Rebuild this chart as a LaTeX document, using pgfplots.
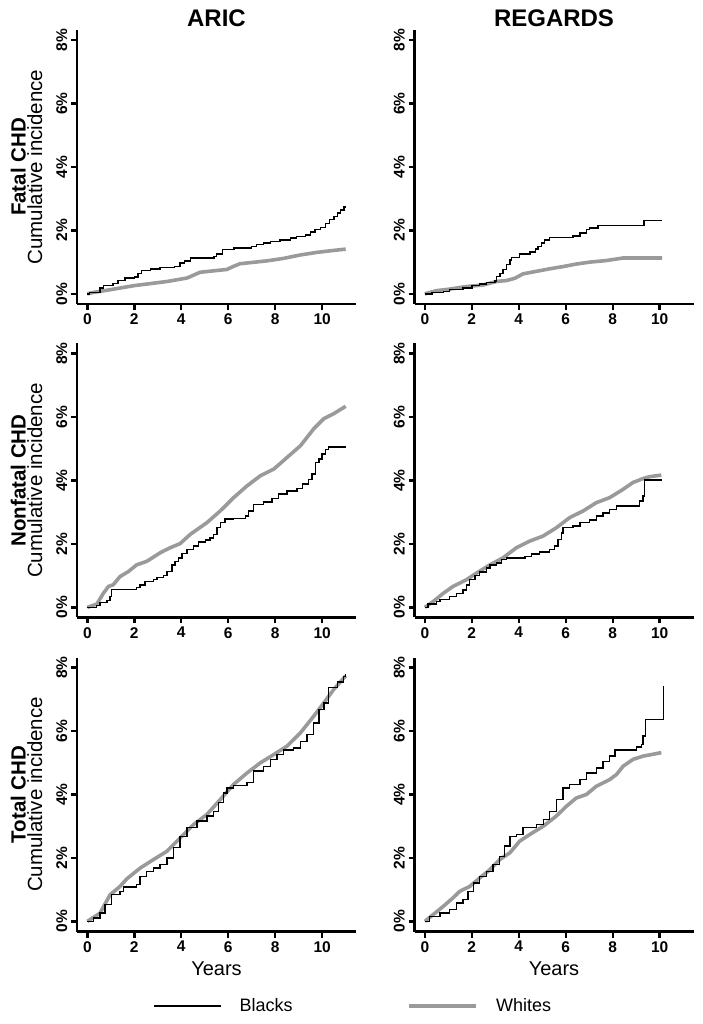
\documentclass[border=0pt]{standalone}
\usepackage{fontspec}
\setmainfont{Liberation Sans}
\usepackage{pgfplots}
\pgfplotsset{compat=1.18}
\definecolor{wgray}{HTML}{9A9A9A}
\pgfplotsset{
  panel/.style={
    scale only axis, width=279pt, height=274pt,
    xmin=-0.44, xmax=11.44, ymin=-0.32, ymax=8.32,
    axis x line*=bottom, axis y line*=left,
    axis line style={line width=2.4pt, black},
    xtick={0,2,4,6,8,10}, xticklabels={0,2,4,6,8,10},
    ytick={0,2,4,6,8}, yticklabels={0\%,2\%,4\%,6\%,8\%},
    tick align=outside, major tick length=6pt,
    every tick/.style={line width=2.4pt, black},
    /pgf/number format/assume math mode=true,
    ticklabel style={font=\fontsize{15.5}{16}\selectfont\bfseries, inner sep=3.5pt},
    yticklabel style={rotate=90, anchor=south},
    xticklabel style={anchor=north},
    clip=false,
  },
  bl/.style={black, line width=1.4pt, const plot, mark=none},
  wh/.style={wgray, line width=3.6pt, mark=none, line join=round},
  rowlabel/.style={ylabel style={at={(axis description cs:-0.181,0.5)}, anchor=center, align=center, font=\fontsize{20.5}{16.5}\selectfont}},
  coltitle/.style={title style={at={(axis description cs:0.5,1)}, anchor=base, yshift=-2.5pt, font=\fontsize{24}{26}\selectfont\bfseries}},
  yearslabel/.style={xlabel={Years}, xlabel style={at={(axis description cs:0.5,0)}, anchor=base, yshift=-44pt, font=\fontsize{20}{22}\selectfont}},
}
\begin{document}
\begin{tikzpicture}
\path[use as bounding box] (0pt,0pt) rectangle (703pt,1024pt);

% ---------- Row 1: Fatal CHD ----------
\begin{axis}[panel, at={(77pt,720pt)}, anchor=south west, coltitle, title={ARIC},
  rowlabel, ylabel={\textbf{Fatal CHD}\\Cumulative incidence}]
\addplot[wh] coordinates {(0,0) (0.3,0.05) (0.97,0.13) (2,0.26) (3.4,0.39) (4.25,0.5) (4.8,0.68) (5.95,0.77) (6.2,0.86) (6.5,0.95) (7.65,1.04) (8.37,1.12) (9.1,1.23) (9.8,1.31) (10.5,1.37) (11,1.41)};
\addplot[bl] coordinates {(0,0) (0.1,0.05) (0.54,0.18) (0.68,0.26) (1.1,0.33) (1.3,0.42) (1.6,0.5) (2.0,0.53) (2.15,0.65) (2.3,0.73) (2.7,0.78) (3.1,0.83) (3.7,0.86) (3.95,0.97) (4.15,1.04) (4.4,1.13) (5.4,1.18) (5.5,1.26) (5.75,1.39) (6.25,1.44) (7.0,1.49) (7.2,1.55) (7.5,1.6) (7.8,1.65) (8.2,1.7) (8.65,1.76) (8.9,1.81) (9.3,1.86) (9.5,1.95) (9.7,2.02) (9.93,2.1) (10.15,2.21) (10.3,2.34) (10.5,2.44) (10.64,2.55) (10.78,2.65) (10.93,2.74) (11.0,2.74)};
\end{axis}

\begin{axis}[panel, at={(414.5pt,720pt)}, anchor=south west, coltitle, title={REGARDS}]
\addplot[wh] coordinates {(0,0) (0.5,0.1) (1.06,0.15) (1.77,0.23) (2.48,0.28) (3.05,0.39) (3.48,0.42) (3.83,0.49) (4.18,0.63) (4.75,0.71) (5.32,0.79) (5.89,0.86) (6.45,0.94) (7.02,1.0) (7.73,1.05) (8.44,1.13) (10.1,1.13)};
\addplot[bl] coordinates {(0,0) (0.3,0.05) (0.8,0.08) (1.06,0.13) (1.63,0.18) (2.0,0.26) (2.34,0.31) (2.62,0.36) (2.98,0.41) (3.05,0.55) (3.2,0.65) (3.33,0.76) (3.48,0.92) (3.62,1.07) (3.69,1.15) (4.04,1.26) (4.47,1.32) (4.7,1.41) (4.82,1.49) (4.96,1.6) (5.1,1.7) (5.32,1.78) (6.31,1.83) (6.6,1.92) (6.88,2.02) (7.02,2.07) (7.38,2.15) (9.33,2.31) (10.1,2.31)};
\end{axis}

% ---------- Row 2: Nonfatal CHD ----------
\begin{axis}[panel, at={(77pt,406.5pt)}, anchor=south west,
  rowlabel, ylabel={\textbf{Nonfatal CHD}\\Cumulative incidence}]
\addplot[wh] coordinates {(0,0) (0.4,0.1) (0.68,0.44) (0.9,0.66) (1.1,0.71) (1.39,0.97) (1.75,1.13) (2.1,1.34) (2.53,1.45) (3.1,1.72) (3.53,1.88) (3.95,2.01) (4.38,2.3) (5.09,2.67) (5.66,3.04) (6.23,3.46) (6.8,3.83) (7.37,4.15) (7.94,4.36) (8.51,4.73) (9.08,5.1) (9.64,5.63) (10.07,5.95) (10.5,6.11) (11.0,6.34)};
\addplot[bl] coordinates {(0,0) (0.4,0.06) (0.54,0.15) (0.83,0.21) (0.97,0.34) (1.04,0.57) (2.1,0.63) (2.25,0.71) (2.46,0.81) (2.82,0.87) (2.96,0.95) (3.24,1.01) (3.39,1.13) (3.6,1.34) (3.74,1.45) (3.88,1.56) (4.03,1.69) (4.24,1.82) (4.52,1.93) (4.74,2.06) (5.02,2.12) (5.23,2.19) (5.38,2.3) (5.52,2.51) (5.66,2.67) (5.87,2.79) (6.23,2.81) (6.73,2.88) (6.87,3.04) (7.08,3.25) (7.51,3.32) (7.87,3.43) (8.15,3.57) (8.51,3.67) (8.93,3.75) (9.15,3.89) (9.43,4.04) (9.57,4.2) (9.72,4.57) (9.86,4.68) (10.0,4.84) (10.14,4.97) (10.28,5.05) (11.0,5.05)};
\end{axis}

\begin{axis}[panel, at={(414.5pt,406.5pt)}, anchor=south west]
\addplot[wh] coordinates {(0,0) (0.35,0.18) (0.78,0.44) (1.2,0.66) (1.77,0.87) (2.2,1.08) (2.77,1.34) (3.33,1.56) (3.9,1.88) (4.47,2.09) (5.04,2.25) (5.6,2.51) (6.17,2.83) (6.74,3.04) (7.3,3.3) (7.87,3.46) (8.44,3.72) (8.87,3.94) (9.29,4.06) (9.57,4.12) (10.07,4.17)};
\addplot[bl] coordinates {(0,0) (0.14,0.1) (0.5,0.18) (0.64,0.25) (1.06,0.34) (1.35,0.44) (1.63,0.55) (1.77,0.71) (1.91,0.87) (2.13,1.0) (2.34,1.11) (2.62,1.24) (2.77,1.34) (3.05,1.4) (3.26,1.5) (3.48,1.56) (4.26,1.61) (4.54,1.68) (4.89,1.74) (5.32,1.82) (5.53,1.93) (5.67,2.14) (5.82,2.35) (5.89,2.51) (6.31,2.56) (6.6,2.67) (7.02,2.75) (7.3,2.88) (7.59,2.98) (7.87,3.09) (8.16,3.19) (9.15,3.35) (9.29,3.51) (9.36,4.02) (10.1,4.02)};
\end{axis}

% ---------- Row 3: Total CHD ----------
\begin{axis}[panel, at={(77pt,92.5pt)}, anchor=south west,
  rowlabel, ylabel={\textbf{Total CHD}\\Cumulative incidence}, yearslabel,
  legend columns=2,
  legend style={draw=none, fill=none, inner sep=0pt, at={(axis description cs:0.2724,-0.2719)}, anchor=west,
    font=\fontsize{18}{20}\selectfont,
    nodes={inner sep=0pt},
    /tikz/every odd column/.append style={column sep=18pt},
    /tikz/every even column/.append style={column sep=115pt}},
  legend image code/.code={\draw[#1] (0pt,0pt) -- (67pt,0pt);}]
\addlegendimage{black, line width=1.4pt}
\addlegendentry{Blacks}
\addlegendimage{wgray, line width=3.6pt}
\addlegendentry{Whites}
\addplot[wh, forget plot] coordinates {(0,0) (0.54,0.26) (0.97,0.84) (1.39,1.1) (1.68,1.34) (2.25,1.68) (2.82,1.95) (3.39,2.21) (3.95,2.63) (4.52,3.05) (5.09,3.37) (5.66,3.84) (6.23,4.32) (6.8,4.68) (7.37,5.0) (7.94,5.26) (8.51,5.53) (9.08,5.95) (9.64,6.47) (10.07,6.89) (10.5,7.32) (11.0,7.74)};
\addplot[bl, forget plot] coordinates {(0,0) (0.26,0.1) (0.54,0.26) (0.75,0.53) (1.04,0.84) (1.39,0.95) (1.54,1.08) (2.1,1.16) (2.25,1.42) (2.53,1.58) (2.82,1.68) (3.1,1.79) (3.39,2.0) (3.67,2.32) (3.95,2.68) (4.24,2.95) (4.67,3.16) (5.09,3.32) (5.38,3.47) (5.59,3.74) (5.8,4.05) (5.95,4.21) (6.23,4.28) (6.8,4.37) (7.08,4.74) (7.51,4.89) (7.8,5.11) (8.08,5.26) (8.36,5.4) (8.79,5.47) (9.08,5.68) (9.36,5.89) (9.64,6.26) (9.86,6.68) (10.07,6.89) (10.28,7.37) (10.64,7.55) (10.9,7.72) (11.0,7.79)};
\end{axis}

\begin{axis}[panel, at={(414.5pt,92.5pt)}, anchor=south west, yearslabel]
\addplot[wh] coordinates {(0,0) (0.35,0.21) (0.78,0.47) (1.2,0.74) (1.49,0.95) (1.91,1.1) (2.34,1.37) (2.77,1.63) (3.19,1.95) (3.62,2.16) (4.04,2.53) (4.47,2.74) (5.04,3.0) (5.6,3.32) (6.03,3.63) (6.45,3.89) (6.88,4.0) (7.3,4.26) (7.87,4.47) (8.16,4.63) (8.44,4.89) (8.87,5.11) (9.29,5.21) (9.65,5.26) (10.07,5.32)};
\addplot[bl] coordinates {(0,0) (0.21,0.16) (0.64,0.26) (1.06,0.37) (1.35,0.58) (1.63,0.68) (1.84,0.95) (2.06,1.21) (2.34,1.42) (2.62,1.58) (2.91,1.79) (3.19,2.05) (3.4,2.37) (3.62,2.68) (3.9,2.74) (4.18,2.95) (4.75,3.05) (5.04,3.21) (5.32,3.47) (5.6,3.84) (5.89,4.21) (6.17,4.32) (6.6,4.47) (6.88,4.68) (7.3,4.84) (7.59,5.05) (7.87,5.21) (8.09,5.4) (9.0,5.5) (9.22,5.58) (9.29,5.84) (9.4,6.37) (10.15,6.37) (10.16,7.42)};
\end{axis}
\end{tikzpicture}
\end{document}
